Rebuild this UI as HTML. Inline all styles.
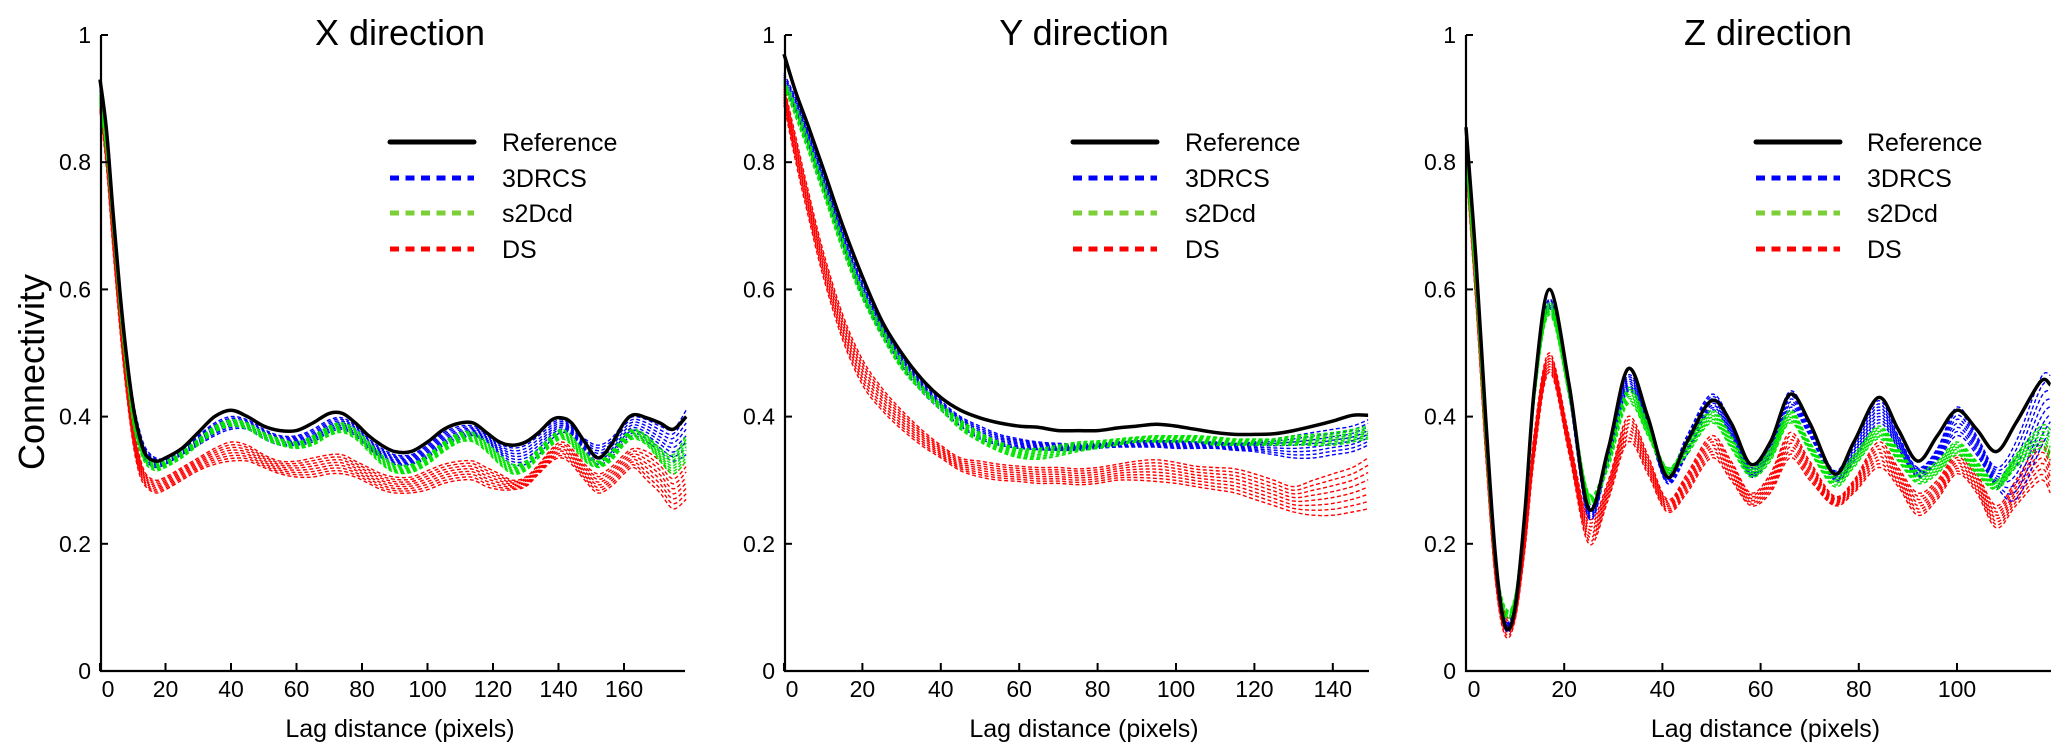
<!DOCTYPE html>
<html><head><meta charset="utf-8">
<style>
html,body{margin:0;padding:0;background:#fff;}
svg{display:block;font-family:"Liberation Sans",sans-serif;}
</style></head>
<body>
<svg id="chart" width="2067" height="756" viewBox="0 0 2067 756" xmlns="http://www.w3.org/2000/svg">
<text x="0" y="0" transform="translate(44,372) rotate(-90)" text-anchor="middle" font-size="36" fill="#000">Connectivity</text>
</svg>
<script>
// ---------- X direction data ----------
const xGrid = [0,2,4,6,8,10,12,14,17,20,25,30,35,40,45,50,55,60,65,70,74,78,82,86,90,95,100,105,110,114,118,122,126,130,134,138,141,144,148,152,156,160,163,167,171,175,179];
const xRef = [.93,.85,.72,.60,.50,.42,.37,.34,.33,.335,.35,.375,.40,.41,.40,.385,.378,.378,.39,.405,.405,.39,.37,.355,.345,.345,.36,.38,.39,.39,.375,.36,.355,.36,.375,.395,.398,.39,.36,.335,.355,.39,.403,.398,.39,.38,.40];
const xBlueHi = [.92,.85,.73,.61,.51,.43,.38,.35,.335,.335,.35,.37,.39,.40,.395,.38,.37,.37,.38,.395,.398,.385,.365,.35,.34,.34,.355,.375,.385,.385,.375,.36,.355,.36,.375,.39,.395,.385,.365,.355,.365,.39,.40,.395,.385,.38,.41];
const xBlueLo = [.90,.82,.70,.58,.48,.40,.35,.33,.32,.325,.34,.355,.37,.38,.38,.365,.355,.355,.36,.375,.38,.37,.35,.335,.325,.325,.335,.355,.365,.37,.36,.34,.325,.325,.34,.365,.375,.37,.345,.325,.335,.36,.37,.36,.345,.33,.34];
const xGreenHi = [.91,.84,.72,.60,.50,.42,.37,.34,.33,.33,.345,.365,.385,.395,.39,.375,.365,.36,.37,.385,.39,.38,.36,.34,.325,.325,.34,.36,.375,.375,.36,.34,.325,.33,.35,.37,.38,.37,.345,.33,.345,.37,.38,.37,.35,.34,.37];
const xGreenLo = [.89,.81,.69,.57,.47,.39,.35,.325,.315,.32,.335,.355,.375,.385,.38,.365,.355,.35,.355,.37,.375,.365,.345,.325,.312,.312,.325,.345,.36,.36,.345,.325,.31,.315,.335,.355,.365,.355,.33,.32,.33,.355,.365,.355,.33,.31,.33];
const xRedHi = [.91,.83,.70,.58,.47,.39,.34,.31,.30,.305,.32,.335,.35,.36,.355,.34,.33,.33,.335,.34,.34,.33,.32,.31,.305,.305,.315,.325,.33,.33,.32,.31,.30,.305,.325,.35,.36,.35,.325,.31,.32,.34,.35,.345,.33,.31,.33];
const xRedLo = [.88,.79,.66,.54,.44,.36,.31,.29,.28,.285,.30,.315,.325,.33,.33,.32,.31,.305,.305,.31,.31,.305,.295,.285,.28,.28,.285,.295,.30,.30,.29,.285,.285,.29,.31,.33,.335,.325,.30,.28,.29,.31,.32,.30,.28,.255,.27];
// ---------- Y direction data ----------
const yGrid = [0,3,6,10,15,20,25,30,35,40,45,50,55,60,65,70,75,80,85,90,95,100,105,110,115,120,125,130,135,140,145,149];
const yRef = [.97,.91,.86,.79,.70,.62,.55,.50,.46,.43,.41,.398,.39,.385,.383,.378,.378,.378,.382,.385,.388,.385,.38,.375,.372,.372,.373,.378,.385,.393,.402,.402];
const yBlueHi = [.94,.90,.85,.78,.69,.61,.545,.495,.455,.425,.40,.385,.372,.365,.36,.358,.357,.358,.36,.362,.362,.362,.36,.36,.358,.36,.365,.37,.375,.38,.385,.395];
const yBlueLo = [.92,.88,.83,.76,.67,.59,.53,.48,.44,.41,.385,.365,.355,.35,.348,.347,.347,.35,.352,.352,.352,.35,.35,.35,.347,.345,.34,.335,.335,.34,.345,.355];
const yGreenHi = [.93,.89,.84,.77,.68,.60,.54,.49,.45,.42,.395,.375,.36,.35,.35,.355,.36,.362,.365,.368,.37,.37,.37,.368,.365,.365,.365,.37,.372,.375,.38,.385];
const yGreenLo = [.92,.87,.82,.75,.66,.585,.525,.475,.44,.41,.38,.36,.345,.335,.333,.338,.345,.35,.355,.36,.36,.36,.36,.355,.355,.355,.355,.355,.355,.355,.36,.365];
const yRedHi = [.92,.84,.76,.66,.56,.49,.445,.41,.38,.355,.335,.33,.325,.322,.32,.32,.318,.32,.325,.33,.332,.328,.322,.32,.318,.31,.30,.29,.30,.31,.32,.335];
const yRedLo = [.89,.80,.72,.62,.52,.45,.41,.38,.355,.335,.315,.305,.30,.298,.295,.295,.293,.295,.30,.30,.298,.295,.29,.285,.28,.27,.26,.25,.245,.245,.25,.255];
// ---------- Z direction data ----------
const zGrid = [0,2,4,6,8,10,12,14,17,21,25,29,33,37,41,45,50,54,58,62,66,70,75,79,84,88,92,96,100,104,108,112,117,119];
const zRef = [.855,.65,.40,.18,.07,.10,.25,.45,.60,.45,.255,.35,.475,.40,.305,.36,.425,.39,.325,.36,.435,.39,.31,.36,.43,.38,.33,.37,.41,.38,.345,.39,.455,.45];
const zBlueHi = [.82,.63,.39,.18,.08,.11,.25,.44,.585,.45,.26,.35,.465,.40,.31,.37,.435,.39,.32,.36,.44,.39,.315,.36,.425,.37,.32,.35,.415,.37,.32,.36,.46,.465];
const zBlueLo = [.80,.61,.37,.16,.065,.095,.24,.43,.57,.43,.24,.33,.44,.38,.295,.34,.41,.37,.305,.34,.41,.37,.30,.33,.39,.35,.305,.33,.37,.34,.29,.27,.35,.38];
const zGreenHi = [.81,.62,.38,.18,.10,.12,.26,.44,.58,.45,.28,.34,.445,.39,.32,.36,.41,.37,.32,.35,.41,.36,.31,.34,.385,.35,.315,.33,.36,.33,.30,.34,.385,.38];
const zGreenLo = [.80,.60,.36,.16,.085,.11,.25,.43,.56,.43,.265,.32,.42,.37,.31,.34,.39,.35,.305,.33,.39,.345,.29,.32,.365,.33,.295,.31,.34,.31,.285,.32,.35,.33];
const zRedHi = [.82,.62,.38,.17,.09,.10,.22,.38,.50,.37,.24,.30,.40,.34,.27,.31,.37,.33,.28,.31,.375,.33,.275,.30,.36,.32,.28,.30,.34,.31,.26,.30,.36,.34];
const zRedLo = [.79,.58,.34,.14,.055,.08,.19,.34,.47,.34,.20,.27,.36,.31,.25,.28,.335,.30,.26,.28,.335,.30,.26,.28,.32,.29,.245,.27,.31,.28,.225,.26,.30,.28];
// ---------- ticks & labels ----------
const yTicks = [0,0.2,0.4,0.6,0.8,1];
const yTickLabels = ["0","0.2","0.4","0.6","0.8","1"];
const xTicksX = [0,20,40,60,80,100,120,140,160];
const xTicksY = [0,20,40,60,80,100,120,140];
const xTicksZ = [0,20,40,60,80,100];
const legendLabels = ["Reference","3DRCS","s2Dcd","DS"];

const NS = "http://www.w3.org/2000/svg";
const svg = document.getElementById('chart');
function mk(tag, attrs, parent){
  const e = document.createElementNS(NS, tag);
  for (const k in attrs) e.setAttribute(k, attrs[k]);
  (parent||svg).appendChild(e);
  return e;
}
function smoothPath(pts){
  let d = "M" + pts[0][0].toFixed(1) + "," + pts[0][1].toFixed(1);
  for (let i=0;i<pts.length-1;i++){
    const p0 = pts[Math.max(0,i-1)], p1 = pts[i], p2 = pts[i+1], p3 = pts[Math.min(pts.length-1,i+2)];
    const c1x = p1[0]+(p2[0]-p0[0])/6, c1y = p1[1]+(p2[1]-p0[1])/6;
    const c2x = p2[0]-(p3[0]-p1[0])/6, c2y = p2[1]-(p3[1]-p1[1])/6;
    d += "C"+c1x.toFixed(1)+","+c1y.toFixed(1)+" "+c2x.toFixed(1)+","+c2y.toFixed(1)+" "+p2[0].toFixed(1)+","+p2[1].toFixed(1);
  }
  return d;
}
const Y0 = 671, Y1 = 35;
function yScale(v){ return Y0 - (Y0-Y1)*v; }

function panel(cfg){
  const g = mk('g', {});
  
  
  const xs = v => cfg.x0 + cfg.ppu*v;
  const t = mk('text', {x:cfg.titleX, y:45, 'text-anchor':'middle', 'font-size':36, fill:'#000'}, g);
  
  
  t.textContent = cfg.title;
  const N = 8;
  const series = [
    {hi:cfg.redHi, lo:cfg.redLo, color:'#ff0000', name:'ds-realization'},
    {hi:cfg.blueHi, lo:cfg.blueLo, color:'#0000ff', name:'3drcs-realization'},
    {hi:cfg.greenHi, lo:cfg.greenLo, color:'#00e600', name:'s2dcd-realization'}
  ];
  series.forEach(s=>{
    for (let k=0;k<N;k++){
      const f = k/(N-1);
      const pts = cfg.grid.map((gx,i)=>[xs(gx), yScale(s.lo[i]+(s.hi[i]-s.lo[i])*f)]);
      const p = mk('path', {d:smoothPath(pts), fill:'none', stroke:s.color, 'stroke-width':1.4, 'stroke-dasharray':'4,2.5'}, g);
      
      
    }
  });
  const rp = mk('path', {d:smoothPath(cfg.grid.map((gx,i)=>[xs(gx), yScale(cfg.ref[i])])), fill:'none', stroke:'#000', 'stroke-width':3.5}, g);
  
  
  const ax = mk('path', {d:`M${cfg.axisX},${Y1}V${Y0}H${cfg.axisEnd}`, fill:'none', stroke:'#000', 'stroke-width':2.2}, g);
  
  
  yTicks.forEach((v,i)=>{
    const tk = mk('line', {x1:cfg.axisX, x2:cfg.axisX+7, y1:yScale(v), y2:yScale(v), stroke:'#000', 'stroke-width':2}, g);
    
    
    const tl = mk('text', {x:cfg.axisX-10, y:yScale(v)+8, 'text-anchor':'end', 'font-size':23, fill:'#000'}, g);
    
    
    tl.textContent = yTickLabels[i];
  });
  cfg.xticks.forEach(v=>{
    const tk = mk('line', {x1:xs(v), x2:xs(v), y1:Y0, y2:Y0-8, stroke:'#000', 'stroke-width':2}, g);
    
    
    const tl = mk('text', {x:v===0 ? xs(v)+8 : xs(v), y:697, 'text-anchor':'middle', 'font-size':23, fill:'#000'}, g);
    
    
    tl.textContent = String(v);
  });
  const xt = mk('text', {x:(cfg.axisX+cfg.axisEnd)/2+7, y:737, 'text-anchor':'middle', 'font-size':25, fill:'#000'}, g);
  
  
  xt.textContent = 'Lag distance (pixels)';
  const lg = mk('g', {}, g);
  
  
  const lcol = ['#000','#0000ff','#7dcf3a','#ff0000'];
  const rows = [142,178,213,249];
  legendLabels.forEach((lab,i)=>{
    const ln = mk('line', {x1:cfg.legX, x2:cfg.legX+84, y1:rows[i], y2:rows[i], stroke:lcol[i], 'stroke-width':5, 'stroke-dasharray':i===0?'none':'9,6.5', 'stroke-linecap':i===0?'round':'butt'}, lg);
    
    
    const lt = mk('text', {x:cfg.legTextX, y:rows[i]+9, 'font-size':25, fill:'#000'}, lg);
    
    
    lt.textContent = lab;
  });
}

panel({name:'x-direction-panel', title:'X direction', titleX:400, x0:100, ppu:3.275, axisX:101, axisEnd:685,
  grid:xGrid, ref:xRef, blueHi:xBlueHi, blueLo:xBlueLo, greenHi:xGreenHi, greenLo:xGreenLo, redHi:xRedHi, redLo:xRedLo,
  xticks:xTicksX, legX:390, legTextX:502});
panel({name:'y-direction-panel', title:'Y direction', titleX:1084, x0:784, ppu:3.92, axisX:785, axisEnd:1369,
  grid:yGrid, ref:yRef, blueHi:yBlueHi, blueLo:yBlueLo, greenHi:yGreenHi, greenLo:yGreenLo, redHi:yRedHi, redLo:yRedLo,
  xticks:xTicksY, legX:1073, legTextX:1185});
panel({name:'z-direction-panel', title:'Z direction', titleX:1768, x0:1466, ppu:4.91, axisX:1466, axisEnd:2051,
  grid:zGrid, ref:zRef, blueHi:zBlueHi, blueLo:zBlueLo, greenHi:zGreenHi, greenLo:zGreenLo, redHi:zRedHi, redLo:zRedLo,
  xticks:xTicksZ, legX:1756, legTextX:1867});
</script>
</body></html>
